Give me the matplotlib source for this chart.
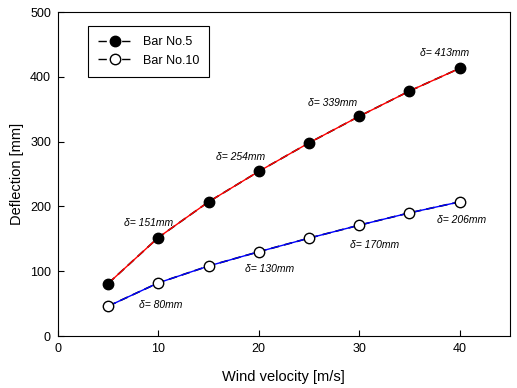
import matplotlib.pyplot as plt
from matplotlib.lines import Line2D

plt.rcParams['font.family'] = ['Liberation Sans', 'DejaVu Sans']

# wind velocity [m/s]
velocity = [5, 10, 15, 20, 25, 30, 35, 40]
# deflection [mm]
bar5 = [81, 152, 207, 254, 298, 339, 378, 413]
bar10 = [46, 82, 108, 130, 151, 171, 190, 207]

# annotation labels and where they sit (data coords)
notes = ["δ= 151mm", "δ= 254mm", "δ= 339mm", "δ= 413mm",
         "δ= 80mm", "δ= 130mm", "δ= 170mm", "δ= 206mm"]
note_x = [9.05, 18.2, 27.4, 38.5, 10.2, 21.1, 31.5, 40.2]
note_y = [174, 276, 360, 437, 48, 103, 140, 179]

fig = plt.figure(figsize=(5.17, 3.88), dpi=100)
ax = fig.add_axes([0.112, 0.134, 0.874, 0.835])

dash = (0, (5, 3))
# measured data, dashed black
ax.plot(velocity, bar5, color='black', ls=dash, lw=1.2, zorder=1)
ax.plot(velocity, bar10, color='black', ls=dash, lw=1.2, zorder=1)
# fitted lines on top of the dashes
ax.plot(velocity, bar5, color='red', lw=1.0, zorder=2)
ax.plot(velocity, bar10, color='blue', lw=1.0, zorder=2)
# markers
ax.plot(velocity, bar5, ls='none', marker='o', ms=7.5, mfc='black', mec='black', zorder=3)
ax.plot(velocity, bar10, ls='none', marker='o', ms=7.5, mfc='white', mec='black', zorder=3)

for txt, x, y in zip(notes, note_x, note_y):
    ax.text(x, y, txt, fontsize=7.5, style='italic', ha='center', va='center')

ax.set_xlim(0, 45)
ax.set_ylim(0, 500)
ax.set_xticks([0, 10, 20, 30, 40])
ax.set_yticks([0, 100, 200, 300, 400, 500])
ax.tick_params(direction='in', labelsize=9, length=4, pad=5)
ax.set_xlabel('Wind velocity [m/s]', fontsize=10.5, labelpad=11)
ax.set_ylabel('Deflection [mm]', fontsize=10.5, labelpad=4)

handles = [
    Line2D([], [], color='black', ls=(0, (6, 2.5)), lw=1.0, marker='o', ms=7.5,
           mfc='black', mec='black', label='Bar No.5'),
    Line2D([], [], color='black', ls=(0, (6, 2.5)), lw=1.0, marker='o', ms=7.5,
           mfc='white', mec='black', label='Bar No.10'),
]
leg = ax.legend(handles=handles, loc='upper left', bbox_to_anchor=(0.052, 0.975),
                fontsize=9, fancybox=False, edgecolor='black', framealpha=1,
                handlelength=2.8, borderpad=0.8)
leg.get_frame().set_linewidth(0.8)

fig.savefig('out.png', dpi=100)
